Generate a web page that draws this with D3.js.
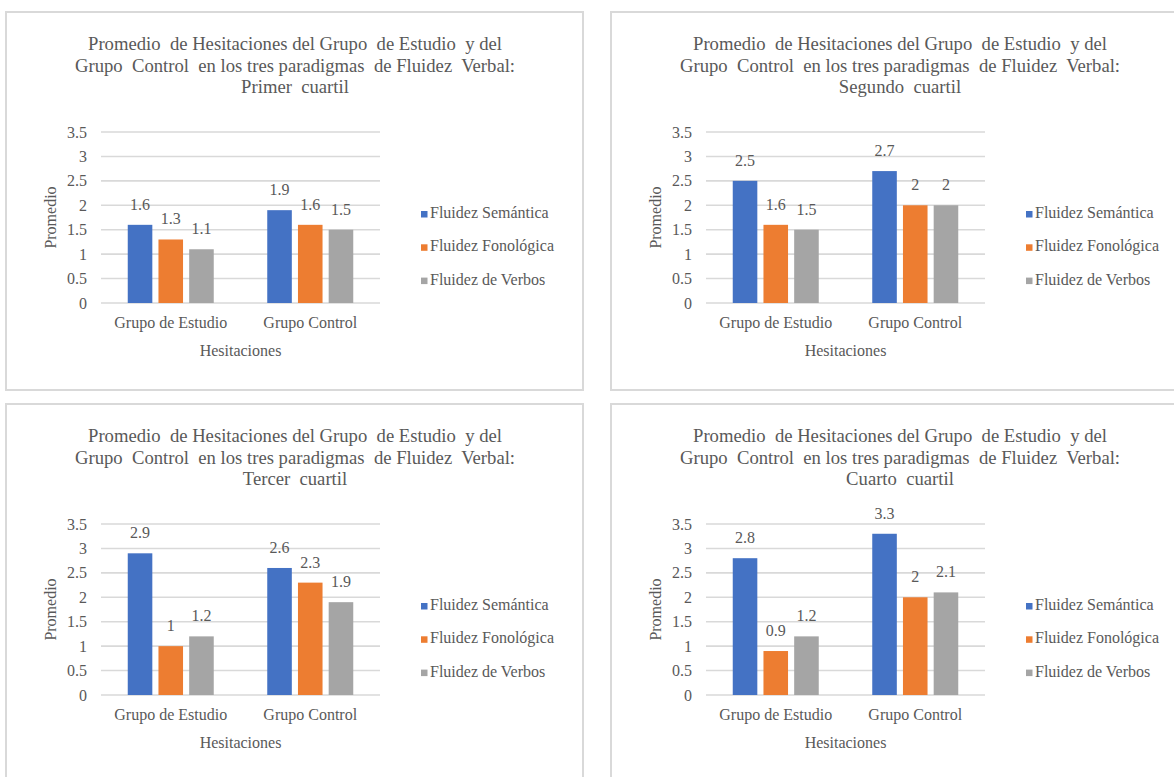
<!DOCTYPE html>
<html>
<head>
<meta charset="utf-8">
<script src="https://cdn.jsdelivr.net/npm/d3@7"></script>
<style>
  html, body { margin: 0; padding: 0; background: #ffffff; }
  svg { display: block; }
</style>
</head>
<body>
<svg id="chart" width="1174" height="777"></svg>
<script>
// Categories, series and values of the four quartile charts
const categories = ["Grupo de Estudio", "Grupo Control"];
const seriesNames = ["Fluidez Semántica", "Fluidez Fonológica", "Fluidez de Verbos"];
const seriesColors = ["#4472c4", "#ed7d31", "#a5a5a5"];
const yTicks = [0, 0.5, 1, 1.5, 2, 2.5, 3, 3.5];

const titleLine1 = "Promedio  de Hesitaciones del Grupo  de Estudio  y del";
const titleLine2 = "Grupo  Control  en los tres paradigmas  de Fluidez  Verbal:";
const quartileNames = ["Primer  cuartil", "Segundo  cuartil", "Tercer  cuartil", "Cuarto  cuartil"];

// values per quartile: [Grupo de Estudio, Grupo Control]
const q1Semantica = [1.6, 1.9];
const q1Fonologica = [1.3, 1.6];
const q1Verbos = [1.1, 1.5];

const q2Semantica = [2.5, 2.7];
const q2Fonologica = [1.6, 2];
const q2Verbos = [1.5, 2];

const q3Semantica = [2.9, 2.6];
const q3Fonologica = [1, 2.3];
const q3Verbos = [1.2, 1.9];

const q4Semantica = [2.8, 3.3];
const q4Fonologica = [0.9, 2];
const q4Verbos = [1.2, 2.1];

const panels = [
  { name: quartileNames[0], series: [q1Semantica, q1Fonologica, q1Verbos], x: 6, y: 12 },
  { name: quartileNames[1], series: [q2Semantica, q2Fonologica, q2Verbos], x: 611, y: 12 },
  { name: quartileNames[2], series: [q3Semantica, q3Fonologica, q3Verbos], x: 6, y: 404 },
  { name: quartileNames[3], series: [q4Semantica, q4Fonologica, q4Verbos], x: 611, y: 404 }
];

const FONT = "Liberation Serif";
const INK = "#595959";
const svg = d3.select("#chart");
const panelW = 577, panelH = 378;
const plot = { left: 95, right: 374, top: 120, bottom: 291 };

function styleText(sel, size) {
  return sel.attr("font-family", FONT)
    .attr("font-size", size)
    .attr("xml:space", "preserve")
    .attr("fill", INK);
}

panels.forEach(p => {
  const g = svg.append("g").attr("transform", `translate(${p.x},${p.y})`);

  // chart area frame
  g.append("rect")
    .attr("x", 0).attr("y", 0)
    .attr("width", panelW).attr("height", panelH)
    .attr("fill", "#ffffff")
    .attr("stroke", "#d9d9d9")
    .attr("stroke-width", 2);

  // title
  const title = styleText(g.append("text").attr("text-anchor", "middle"), 18.67);
  [titleLine1, titleLine2, p.name].forEach((line, i) => {
    title.append("tspan").attr("x", 289).attr("y", 38 + i * 21.5).text(line);
  });

  const y = d3.scaleLinear().domain([0, 3.5]).range([plot.bottom, plot.top]);
  const x0 = d3.scaleBand().domain(categories).range([plot.left, plot.right]);
  const groupW = 86;
  const x1 = d3.scaleBand().domain(seriesNames).range([0, groupW]).paddingInner(0.2);
  const groupOffset = (x0.bandwidth() - groupW) / 2;

  // gridlines
  g.append("g").selectAll("line")
    .data(yTicks)
    .join("line")
    .attr("x1", plot.left).attr("x2", plot.right)
    .attr("y1", d => y(d)).attr("y2", d => y(d))
    .attr("stroke", "#d9d9d9")
    .attr("stroke-width", 1.6);

  // y axis labels
  const yAxis = d3.axisLeft(y).tickValues(yTicks).tickSize(0).tickPadding(14).tickFormat(d => String(d));
  const ya = g.append("g").attr("transform", `translate(${plot.left},0)`).call(yAxis);
  ya.attr("font-family", FONT).attr("font-size", 16);
  ya.select(".domain").remove();
  styleText(ya.selectAll("text"), 16);

  // x axis labels
  const xAxis = d3.axisBottom(x0).tickSize(0).tickPadding(14);
  const xa = g.append("g").attr("transform", `translate(0,${plot.bottom})`).call(xAxis);
  xa.attr("font-family", FONT).attr("font-size", 16);
  xa.select(".domain").remove();
  styleText(xa.selectAll("text"), 16);

  // bars and value labels
  categories.forEach((cat, ci) => {
    seriesNames.forEach((s, si) => {
      const v = p.series[si][ci];
      const bx = x0(cat) + groupOffset + x1(s);
      g.append("rect")
        .attr("x", bx).attr("y", y(v))
        .attr("width", x1.bandwidth())
        .attr("height", y(0) - y(v))
        .attr("fill", seriesColors[si]);
      styleText(g.append("text"), 16)
        .attr("x", bx + x1.bandwidth() / 2)
        .attr("y", y(v) - 15)
        .attr("text-anchor", "middle")
        .text(String(v));
    });
  });

  // axis titles
  styleText(g.append("text"), 16)
    .attr("transform", `translate(44,${(plot.top + plot.bottom) / 2}) rotate(-90)`)
    .attr("text-anchor", "middle")
    .attr("dy", "0.35em")
    .text("Promedio");
  styleText(g.append("text"), 16)
    .attr("x", (plot.left + plot.right) / 2)
    .attr("y", 343.5)
    .attr("text-anchor", "middle")
    .text("Hesitaciones");

  // legend
  const legend = g.append("g");
  seriesNames.forEach((s, i) => {
    const ly = 202 + i * 33.3;
    legend.append("rect")
      .attr("x", 415).attr("y", ly - 3)
      .attr("width", 6.5).attr("height", 6.5)
      .attr("fill", seriesColors[i]);
    styleText(legend.append("text"), 16)
      .attr("x", 424).attr("y", ly + 4)
      .text(s);
  });
});
</script>
</body>
</html>
